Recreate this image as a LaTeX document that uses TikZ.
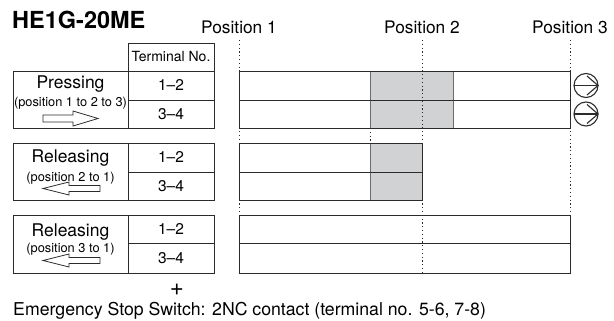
\documentclass[tikz,border=0pt]{standalone}
\usepackage{fontspec}
\setmainfont{TeX Gyre Heros}
\usetikzlibrary{positioning, calc}

\definecolor{edge}{HTML}{2B2B2B}
\definecolor{holdgray}{HTML}{D1D2D4}
\newcommand{\fsz}[1]{\fontsize{#1}{#1}\selectfont}

\begin{document}
\begin{tikzpicture}[
		x=1pt, y=-1pt,
		% table cells and bars
		cell/.style={draw=edge, line width=0.9pt, outer sep=0pt, inner sep=0pt, anchor=north west, font=\fsz{15.5}},
		bar/.style={draw=edge, line width=0.9pt, outer sep=0pt, inner sep=0pt, anchor=north west},
		hold/.style={fill=holdgray, draw=edge!70, line width=0.8pt, outer sep=0pt, inner sep=0pt, anchor=north west},
		% dotted position guides
		guide/.style={draw=edge, line width=0.8pt, dash pattern=on 1.2pt off 2.6pt},
		% texts
		poslabel/.style={font=\fsz{17.3}, anchor=base, inner sep=0pt},
		mode/.style={font=\fsz{17.5}, anchor=base, inner sep=0pt},
		sub/.style={font=\fsz{12.8}, anchor=base, inner sep=0pt},
		fat/.style={draw=edge, fill=white, line width=0.8pt, line join=miter},
		endmark/.style={draw=edge, line width=1.1pt, line join=miter}
		]
		\useasboundingbox (0,0) rectangle (614,321);
		
		% ==========================================
		% Title and position labels
		% ==========================================
		\node[font=\bfseries\fsz{23.5}, anchor=base west, inner sep=0pt] (model) at (12,29) {HE1G-20ME};
		\node[poslabel] (pos1) at (239,34) {Position 1};
		\node[poslabel] (pos2) at (422,34) {Position 2};
		\node[poslabel] (pos3) at (570,34) {Position 3};
		
		% ==========================================
		% Left table
		% ==========================================
		\node[cell, minimum width=115pt, minimum height=57pt] (press) at (13,71) {};
		\node[cell, minimum width=86pt, minimum height=29pt] (press12) at (press.north east) {1--2};
		\node[cell, minimum width=86pt, minimum height=28pt] (press34) at (press12.south west) {3--4};
		\node[cell, anchor=south west, minimum width=86pt, minimum height=28pt, font=\fsz{14}] (terminal) at (press12.north west) {Terminal No.};
		
		\node[cell, minimum width=115pt, minimum height=57pt] (relA) at (13,143) {};
		\node[cell, minimum width=86pt, minimum height=29pt] (relA12) at (relA.north east) {1--2};
		\node[cell, minimum width=86pt, minimum height=28pt] (relA34) at (relA12.south west) {3--4};
		
		\node[cell, minimum width=115pt, minimum height=58pt] (relB) at (13,215) {};
		\node[cell, minimum width=86pt, minimum height=28pt] (relB12) at (relB.north east) {1--2};
		\node[cell, minimum width=86pt, minimum height=30pt] (relB34) at (relB12.south west) {3--4};
		
		% mode texts
		\node[mode] (pressname) at (70.5,89) {Pressing};
		\node[sub] (presssub) at (70.5,106.5) {(position 1 to 2 to 3)};
		\node[mode] (relAname) at (70.5,163) {Releasing};
		\node[sub] (relAsub) at (70.5,181) {(position 2 to 1)};
		\node[mode] (relBname) at (70.5,236) {Releasing};
		\node[sub] (relBsub) at (70.5,252.5) {(position 3 to 1)};
		
		% fat direction arrows
		\draw[fat, shift={(43,118.5)}] (0,-3.5) -- (30,-3.5) -- (30,-7.5) -- (55,0) -- (30,7.5) -- (30,3.5) -- (0,3.5) -- cycle;
		\draw[fat, shift={(100,188.5)}] (0,-3) -- (-31,-3) -- (-31,-6.5) -- (-57,0) -- (-31,6.5) -- (-31,3) -- (0,3) -- cycle;
		\draw[fat, shift={(100,260.5)}] (0,-3) -- (-31,-3) -- (-31,-6.5) -- (-57,0) -- (-31,6.5) -- (-31,3) -- (0,3) -- cycle;
		
		% ==========================================
		% Contact bars
		% ==========================================
		\node[hold, minimum width=83pt, minimum height=57pt] (hold1) at (370,71) {};
		\node[hold, minimum width=52pt, minimum height=57pt] (hold2) at (370,143) {};
		
		\node[bar, minimum width=331pt, minimum height=29pt] (bar1a) at (239,71) {};
		\node[bar, minimum width=331pt, minimum height=28pt] (bar1b) at (bar1a.south west) {};
		\node[bar, minimum width=183pt, minimum height=29pt] (bar2a) at (239,143) {};
		\node[bar, minimum width=183pt, minimum height=28pt] (bar2b) at (bar2a.south west) {};
		\node[bar, minimum width=331pt, minimum height=28pt] (bar3a) at (239,215) {};
		\node[bar, minimum width=331pt, minimum height=30pt] (bar3b) at (bar3a.south west) {};
		
		% continues past position 3
		\foreach \b in {bar1a, bar1b} {
			\coordinate (c) at ($(\b.east)+(16,0)$);
			\draw[endmark] (c) circle[radius=12];
			\draw[endmark] ($(c)+(-12,0)$) -- ($(c)+(12,0)$);
			\draw[endmark] ($(c)+(1,-9.5)$) -- ($(c)+(12,0)$) -- ($(c)+(1,9.5)$);
		}
		
		% ==========================================
		% Position guides
		% ==========================================
		\coordinate (g1top) at (239,40);
		\coordinate (g1bot) at (239,273);
		\coordinate (g2top) at (422,40);
		\coordinate (g2bot) at (422,273);
		\coordinate (g3top) at (570,40);
		\coordinate (g3bot) at (570,273);
		\draw[guide] (g1top) -- (g1bot);
		\draw[guide] (g2top) -- (g2bot);
		\draw[guide] (g3top) -- (g3bot);
		\draw[guide] (hold1.south west) -- (hold2.north west);
		
		% ==========================================
		% Footnote
		% ==========================================
		\node[font=\fsz{24}, inner sep=0pt] (plus) at (177,290) {+};
		\node[font=\fsz{17.7}, anchor=base west, inner sep=0pt] (estop) at (13,315) {Emergency Stop Switch: 2NC contact (terminal no. 5-6, 7-8)};
		
	\end{tikzpicture}
\end{document}
